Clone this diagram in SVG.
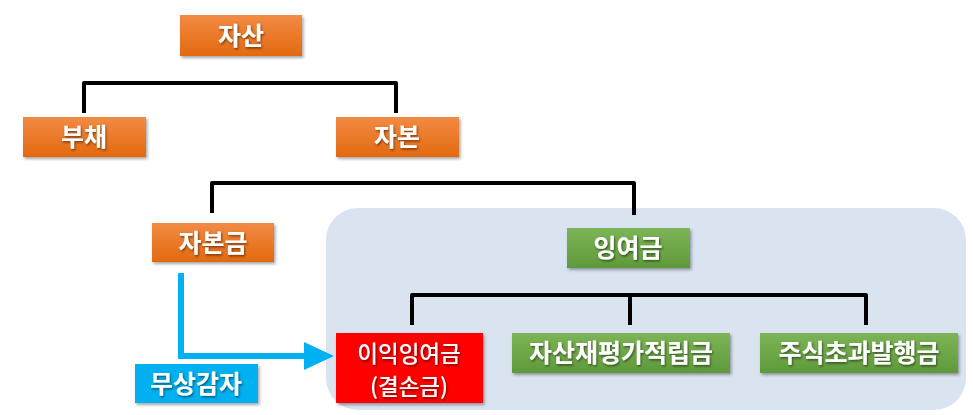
<svg xmlns="http://www.w3.org/2000/svg" width="973" height="415" viewBox="0 0 973 415">
<defs>
<linearGradient id="og" x1="0" y1="0" x2="0" y2="1"><stop offset="0" stop-color="#f28b44"/><stop offset="1" stop-color="#e3690f"/></linearGradient>
<linearGradient id="gg" x1="0" y1="0" x2="0" y2="1"><stop offset="0" stop-color="#7cb456"/><stop offset="1" stop-color="#5f9a3a"/></linearGradient>
<filter id="sh" x="-10%" y="-20%" width="130%" height="150%"><feDropShadow dx="1.5" dy="2" stdDeviation="1.5" flood-color="#000" flood-opacity="0.35"/></filter>
<filter id="ts" x="-10%" y="-20%" width="130%" height="150%"><feDropShadow dx="1" dy="1.5" stdDeviation="0.8" flood-color="#000" flood-opacity="0.5"/></filter>
</defs>
<style>
.t{font-family:"Noto Sans CJK KR","Noto Sans",sans-serif;fill:#fff;text-anchor:middle;filter:url(#ts)}
.b{font-weight:bold;font-size:25px}
.g{font-weight:bold;font-size:25px}
.r{font-size:22.5px;font-weight:500}
.con{fill:none;stroke:#000;stroke-width:4;stroke-linejoin:round}
</style>
<rect x="326" y="208" width="640" height="202" rx="32" fill="#dae3f0"/>
<g id="connectors">
<path class="con" d="M84,113 V83 H396 V113"/>
<path class="con" d="M212,213 V183 H634 V215"/>
<path class="con" d="M412,325 V295 H866 V325 M630,295 V325"/>
<path d="M181,273 V356 H306" fill="none" stroke="#00b0f0" stroke-width="6"/>
<polygon points="304,342 334,356 304,370" fill="#00b0f0"/>
</g>
<g id="n-asset"><rect x="180" y="15" width="122" height="41" fill="url(#og)" filter="url(#sh)"/><text class="t b" x="241" y="45">자산</text></g>
<g id="n-debt"><rect x="23" y="117" width="123" height="40" fill="url(#og)" filter="url(#sh)"/><text class="t b" x="84" y="146">부채</text></g>
<g id="n-equity"><rect x="336" y="117" width="123" height="40" fill="url(#og)" filter="url(#sh)"/><text class="t b" x="397" y="146">자본</text></g>
<g id="n-capital"><rect x="152" y="223" width="122" height="39" fill="url(#og)" filter="url(#sh)"/><text class="t b" x="213" y="252">자본금</text></g>
<g id="n-surplus"><rect x="567" y="228" width="123" height="40" fill="url(#gg)" filter="url(#sh)"/><text class="t g" x="628" y="257">잉여금</text></g>
<g id="n-retained"><rect x="336" y="333" width="147" height="70" fill="#ff0000" filter="url(#sh)"/><text class="t r" x="409" y="362">이익잉여금</text><text class="t r" x="409" y="395">(결손금)</text></g>
<g id="n-reval"><rect x="512" y="333" width="218" height="40" fill="url(#gg)" filter="url(#sh)"/><text class="t g" x="621" y="362">자산재평가적립금</text></g>
<g id="n-premium"><rect x="760" y="333" width="198" height="40" fill="url(#gg)" filter="url(#sh)"/><text class="t g" x="859" y="362">주식초과발행금</text></g>
<g id="n-reduction"><rect x="135" y="364" width="123" height="39" fill="#00b0f0" filter="url(#sh)"/><text class="t b" x="196" y="393">무상감자</text></g>
</svg>
